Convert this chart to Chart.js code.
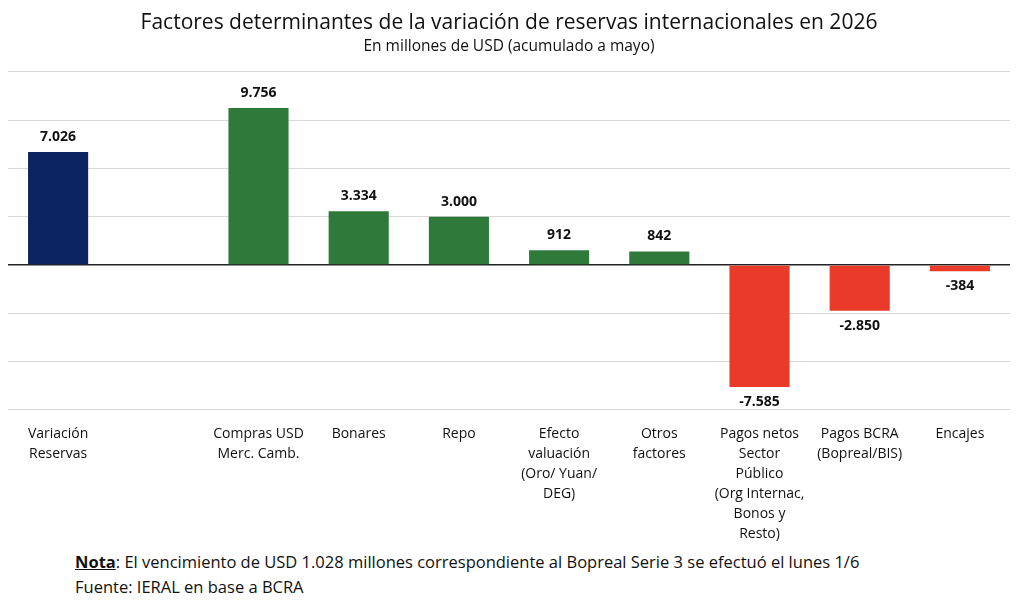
<!DOCTYPE html>
<html><head><meta charset="utf-8">
<script src="https://cdn.jsdelivr.net/npm/chart.js@4"></script>
<style>
body{margin:0;background:#fff;font-family:"Open Sans",sans-serif;}
#wrap{position:relative;width:1024px;height:550px;}
.foot{position:absolute;left:75px;font-size:16.5px;color:#111;}
</style></head><body>
<div id="wrap"><canvas id="c" width="1024" height="550"></canvas></div>
<div class="foot" style="top:550px"><b><u>Nota</u></b>: El vencimiento de USD 1.028 millones correspondiente al Bopreal Serie 3 se efectuó el lunes 1/6</div>
<div class="foot" style="top:575px">Fuente: IERAL en base a BCRA</div>
<script>
const categories=[["Variación","Reservas"],"",["Compras USD","Merc. Camb."],"Bonares","Repo",["Efecto","valuación","(Oro/ Yuan/","DEG)"],["Otros","factores"],["Pagos netos","Sector","Público","(Org Internac,","Bonos y","Resto)"],["Pagos BCRA","(Bopreal/BIS)"],"Encajes"];
const values=[7026,null,9756,3334,3000,912,842,-7585,-2850,-384];
const labels=["7.026","","9.756","3.334","3.000","912","842","-7.585","-2.850","-384"];
const colors=["#0c2461",null,"#2f7a3b","#2f7a3b","#2f7a3b","#2f7a3b","#2f7a3b","#ea3a2a","#ea3a2a","#ea3a2a"];
const lbl={id:'lbl',afterDatasetsDraw(ch){const ctx=ch.ctx;const m=ch.getDatasetMeta(0);ctx.save();ctx.font='bold 14px "Open Sans"';ctx.fillStyle='#111';ctx.textAlign='center';
m.data.forEach((b,i)=>{if(values[i]==null)return;if(values[i]>=0){ctx.textBaseline='bottom';ctx.fillText(labels[i],b.x,b.y-8);}else{ctx.textBaseline='top';ctx.fillText(labels[i],b.x,b.y+8);}});ctx.restore();}};
new Chart(document.getElementById('c'),{type:'bar',
data:{labels:categories,datasets:[{data:values,backgroundColor:colors,barPercentage:0.6,categoryPercentage:1}]},
options:{responsive:false,animation:false,layout:{padding:{left:8,right:14,top:0}},
plugins:{legend:{display:false},tooltip:{enabled:false},
title:{display:true,text:'Factores determinantes de la variación de reservas internacionales en 2026',font:{family:'Open Sans',size:21,weight:'500'},color:'#111',padding:{top:10,bottom:2}},
subtitle:{display:true,text:'En millones de USD (acumulado a mayo)',font:{family:'Open Sans',size:15.5},color:'#111',padding:{bottom:16}}},
scales:{x:{grid:{display:false},border:{display:false},ticks:{color:'#111',font:{family:'Open Sans',size:14,lineHeight:1.43},maxRotation:0,autoSkip:false,padding:6}},
y:{min:-9000,max:12000,ticks:{display:false,stepSize:3000},border:{display:false},grid:{color:c=>c.tick.value===0?'#222':'#d9d9d9',lineWidth:c=>c.tick.value===0?1.5:1,drawTicks:false}}}},
plugins:[lbl]});
</script></body></html>
